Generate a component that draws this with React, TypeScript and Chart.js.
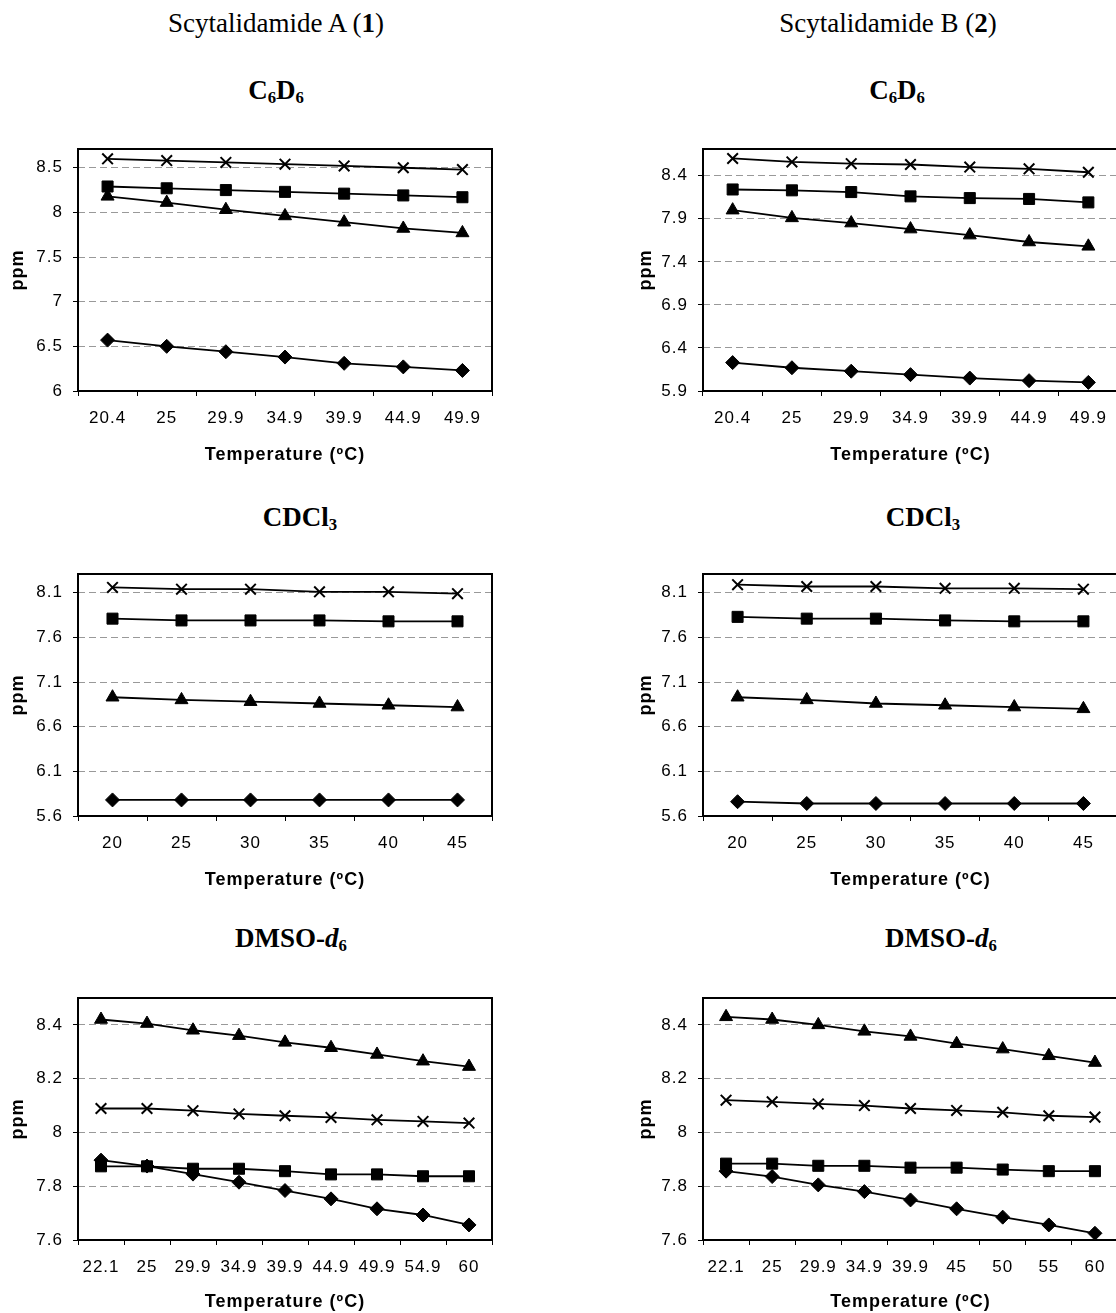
import React, { useEffect, useRef } from 'react';
import { Chart, registerables } from 'chart.js';
Chart.register(...registerables);

const SANS = '"Liberation Sans", Arial, sans-serif';
const SERIF = '"Liberation Serif", "Times New Roman", serif';

// ---- categories (temperature, °C) ----
const c6d6Temps = ['20.4', '25', '29.9', '34.9', '39.9', '44.9', '49.9'];
const cdcl3Temps = ['20', '25', '30', '35', '40', '45'];
const dmsoTempsA = ['22.1', '25', '29.9', '34.9', '39.9', '44.9', '49.9', '54.9', '60'];
const dmsoTempsB = ['22.1', '25', '29.9', '34.9', '39.9', '45', '50', '55', '60'];

// ---- y tick labels ----
const c6d6TicksA = [6, 6.5, 7, 7.5, 8, 8.5];
const c6d6TicksB = [5.9, 6.4, 6.9, 7.4, 7.9, 8.4];
const cdcl3Ticks = [5.6, 6.1, 6.6, 7.1, 7.6, 8.1];
const dmsoTicks = [7.6, 7.8, 8, 8.2, 8.4];

// series order: diamond, square, triangle, cross
const seriesNames = ['Series 1', 'Series 2', 'Series 3', 'Series 4'];

// ---- Scytalidamide A, C6D6 ----
const aC6D6Diamond = [6.57, 6.5, 6.44, 6.38, 6.31, 6.27, 6.23];
const aC6D6Square = [8.29, 8.27, 8.25, 8.23, 8.21, 8.19, 8.17];
const aC6D6Triangle = [8.18, 8.11, 8.03, 7.96, 7.89, 7.82, 7.77];
const aC6D6Cross = [8.6, 8.58, 8.56, 8.54, 8.52, 8.5, 8.48];

// ---- Scytalidamide B, C6D6 ----
const bC6D6Diamond = [6.23, 6.17, 6.13, 6.09, 6.05, 6.02, 6.0];
const bC6D6Square = [8.24, 8.23, 8.21, 8.16, 8.14, 8.13, 8.09];
const bC6D6Triangle = [8.0, 7.91, 7.85, 7.78, 7.71, 7.63, 7.58];
const bC6D6Cross = [8.6, 8.56, 8.54, 8.53, 8.5, 8.48, 8.44];

// ---- Scytalidamide A, CDCl3 ----
const aCDCl3Diamond = [5.78, 5.78, 5.78, 5.78, 5.78, 5.78];
const aCDCl3Square = [7.81, 7.79, 7.79, 7.79, 7.78, 7.78];
const aCDCl3Triangle = [6.93, 6.9, 6.88, 6.86, 6.84, 6.82];
const aCDCl3Cross = [8.16, 8.14, 8.14, 8.11, 8.11, 8.09];

// ---- Scytalidamide B, CDCl3 ----
const bCDCl3Diamond = [5.76, 5.74, 5.74, 5.74, 5.74, 5.74];
const bCDCl3Square = [7.83, 7.81, 7.81, 7.79, 7.78, 7.78];
const bCDCl3Triangle = [6.93, 6.9, 6.86, 6.84, 6.82, 6.8];
const bCDCl3Cross = [8.19, 8.17, 8.17, 8.15, 8.15, 8.14];

// ---- Scytalidamide A, DMSO-d6 ----
const aDMSODiamond = [7.897, 7.875, 7.845, 7.815, 7.784, 7.753, 7.716, 7.693, 7.656];
const aDMSOSquare = [7.874, 7.874, 7.865, 7.865, 7.856, 7.844, 7.844, 7.837, 7.837];
const aDMSOTriangle = [8.42, 8.405, 8.38, 8.36, 8.335, 8.315, 8.29, 8.265, 8.245];
const aDMSOCross = [8.089, 8.089, 8.081, 8.069, 8.062, 8.056, 8.047, 8.041, 8.035];

// ---- Scytalidamide B, DMSO-d6 ----
const bDMSODiamond = [7.856, 7.836, 7.805, 7.78, 7.749, 7.716, 7.685, 7.656, 7.625];
const bDMSOSquare = [7.884, 7.884, 7.876, 7.876, 7.869, 7.869, 7.862, 7.856, 7.856];
const bDMSOTriangle = [8.43, 8.42, 8.4, 8.376, 8.357, 8.33, 8.31, 8.285, 8.26];
const bDMSOCross = [8.12, 8.114, 8.106, 8.1, 8.089, 8.082, 8.075, 8.062, 8.057];

const markerStyles = [
  { pointStyle: 'rectRot', radius: 7, bw: 1 },
  { pointStyle: 'rect', radius: 7.8, bw: 1 },
  { pointStyle: 'triangle', radius: 7.5, bw: 1 },
  { pointStyle: 'crossRot', radius: 7.5, bw: 2 },
];

const framePlugin = {
  id: 'frame',
  beforeDraw(chart: any) {
    chart.ctx.letterSpacing = '1px';
  },
  afterDraw(chart: any) {
    const { ctx, chartArea: a } = chart;
    ctx.save();
    ctx.setLineDash([]);
    ctx.strokeStyle = '#000';
    ctx.lineWidth = 2;
    ctx.strokeRect(a.left, a.top, a.right - a.left, a.bottom - a.top);
    ctx.restore();
  },
};

type PanelProps = {
  left: number;
  top: number;
  width: number;
  height: number;
  plotLeft: number;
  plotTop: number;
  xAxisH: number;
  labels: string[];
  series: number[][];
  yMin: number;
  yMax: number;
  yTicks: number[];
  ppmX: number;
  xTitleOff: number;
};

function Panel(p: PanelProps) {
  const ref = useRef<HTMLCanvasElement>(null);
  useEffect(() => {
    const chart = new Chart(ref.current as HTMLCanvasElement, {
      type: 'line',
      data: {
        labels: p.labels,
        datasets: p.series.map((d, i) => ({
          label: seriesNames[i],
          data: d,
          borderColor: '#000',
          backgroundColor: '#000',
          borderWidth: 1.8,
          pointStyle: markerStyles[i].pointStyle as any,
          pointRadius: markerStyles[i].radius,
          pointBorderWidth: markerStyles[i].bw,
          pointBackgroundColor: '#000',
          pointBorderColor: '#000',
          tension: 0,
          clip: false as any,
        })),
      },
      options: {
        animation: false,
        responsive: false,
        devicePixelRatio: 1,
        events: [],
        layout: { autoPadding: false, padding: { top: p.plotTop - p.top, right: 2, left: 0, bottom: 0 } },
        plugins: { legend: { display: false }, tooltip: { enabled: false } },
        scales: {
          x: {
            type: 'category',
            offset: true,
            grid: {
              display: true,
              drawOnChartArea: false,
              drawTicks: true,
              tickLength: 5,
              offset: true,
              tickColor: '#000',
              tickWidth: 1,
            },
            border: { display: false },
            ticks: {
              color: '#000',
              font: { family: SANS, size: 17 },
              padding: 12,
              maxRotation: 0,
              autoSkip: false,
            },
            title: {
              display: true,
              text: 'Temperature (ºC)',
              color: '#000',
              font: { family: SANS, size: 18, weight: 'bold' },
              padding: { top: 0, bottom: p.xAxisH - 10.8 - p.xTitleOff },
            },
            afterFit: (s: any) => {
              s.height = p.xAxisH;
              s.paddingLeft = 0;
              s.paddingRight = 0;
              s.paddingTop = 0;
              s.paddingBottom = 0;
            },
          },
          y: {
            type: 'linear',
            min: p.yMin,
            max: p.yMax,
            afterBuildTicks: (s: any) => {
              s.ticks = p.yTicks.map((v) => ({ value: v }));
            },
            grid: {
              color: '#999999',
              lineWidth: 1,
              drawTicks: true,
              tickLength: 5,
              tickColor: '#000',
              tickBorderDash: [],
            },
            border: { display: false, dash: [7, 4] },
            ticks: {
              color: '#000',
              font: { family: SANS, size: 17 },
              padding: 10,
              callback: (v: any) => String(v),
            },
            title: {
              display: true,
              text: 'ppm',
              color: '#000',
              font: { family: SANS, size: 18, weight: 'bold' },
              padding: { top: p.ppmX - p.left - 10.8, bottom: 0 },
            },
            afterFit: (s: any) => {
              s.width = p.plotLeft - p.left;
              s.paddingTop = 0;
              s.paddingBottom = 0;
              s.paddingLeft = 0;
              s.paddingRight = 0;
            },
          },
        },
      } as any,
      plugins: [framePlugin],
    });
    return () => chart.destroy();
  }, []);
  return (
    <canvas
      ref={ref}
      width={p.width}
      height={p.height}
      style={{ position: 'absolute', left: p.left, top: p.top, width: p.width, height: p.height }}
    />
  );
}

function Label(props: { cx: number; baseline: number; bold?: boolean; children: any }) {
  return (
    <div
      style={{
        position: 'absolute',
        left: props.cx,
        top: props.baseline - 22.6,
        transform: 'translateX(-50%)',
        whiteSpace: 'nowrap',
        fontFamily: SERIF,
        fontSize: 27,
        lineHeight: '27px',
        fontWeight: props.bold ? 'bold' : 'normal',
        color: '#000',
      }}
    >
      {props.children}
    </div>
  );
}

const sub: React.CSSProperties = { fontSize: '0.62em', position: 'relative', top: '0.22em' };

export default function App() {
  const L = { left: 0, width: 494, plotLeft: 78, ppmX: 18.3 };
  const R = { left: 620, width: 500, plotLeft: 703, ppmX: 646 };
  const rows = [
    { top: 140, plotTop: 149, xTitleOff: 64 },
    { top: 565, plotTop: 574, xTitleOff: 64 },
    { top: 989, plotTop: 998, xTitleOff: 62 },
  ];
  const plotH = 242;
  const xAxisH = 79;
  const mk = (col: any, row: any) => ({
    left: col.left,
    width: col.width,
    plotLeft: col.plotLeft,
    ppmX: col.ppmX,
    top: row.top,
    plotTop: row.plotTop,
    xTitleOff: row.xTitleOff,
    xAxisH,
    height: row.plotTop - row.top + plotH + xAxisH,
  });
  return (
    <div
      style={{
        position: 'absolute',
        left: 0,
        top: 0,
        width: 1116,
        height: 1313,
        overflow: 'hidden',
        background: '#fff',
      }}
    >
      <Label cx={276} baseline={33}>
        Scytalidamide A (<b>1</b>)
      </Label>
      <Label cx={888} baseline={33}>
        Scytalidamide B (<b>2</b>)
      </Label>
      <Label cx={276} baseline={100} bold>
        C<span style={sub}>6</span>D<span style={sub}>6</span>
      </Label>
      <Label cx={897} baseline={100} bold>
        C<span style={sub}>6</span>D<span style={sub}>6</span>
      </Label>
      <Label cx={300} baseline={527} bold>
        CDCl<span style={sub}>3</span>
      </Label>
      <Label cx={923} baseline={527} bold>
        CDCl<span style={sub}>3</span>
      </Label>
      <Label cx={291} baseline={948} bold>
        DMSO-<i>d</i>
        <span style={sub}>6</span>
      </Label>
      <Label cx={941} baseline={948} bold>
        DMSO-<i>d</i>
        <span style={sub}>6</span>
      </Label>

      <Panel
        {...mk(L, rows[0])}
        labels={c6d6Temps}
        series={[aC6D6Diamond, aC6D6Square, aC6D6Triangle, aC6D6Cross]}
        yMin={6}
        yMax={8.71}
        yTicks={c6d6TicksA}
      />
      <Panel
        {...mk(R, rows[0])}
        labels={c6d6Temps}
        series={[bC6D6Diamond, bC6D6Square, bC6D6Triangle, bC6D6Cross]}
        yMin={5.9}
        yMax={8.71}
        yTicks={c6d6TicksB}
      />
      <Panel
        {...mk(L, rows[1])}
        labels={cdcl3Temps}
        series={[aCDCl3Diamond, aCDCl3Square, aCDCl3Triangle, aCDCl3Cross]}
        yMin={5.6}
        yMax={8.31}
        yTicks={cdcl3Ticks}
      />
      <Panel
        {...mk(R, rows[1])}
        labels={cdcl3Temps}
        series={[bCDCl3Diamond, bCDCl3Square, bCDCl3Triangle, bCDCl3Cross]}
        yMin={5.6}
        yMax={8.31}
        yTicks={cdcl3Ticks}
      />
      <Panel
        {...mk(L, rows[2])}
        labels={dmsoTempsA}
        series={[aDMSODiamond, aDMSOSquare, aDMSOTriangle, aDMSOCross]}
        yMin={7.6}
        yMax={8.5}
        yTicks={dmsoTicks}
      />
      <Panel
        {...mk(R, rows[2])}
        labels={dmsoTempsB}
        series={[bDMSODiamond, bDMSOSquare, bDMSOTriangle, bDMSOCross]}
        yMin={7.6}
        yMax={8.5}
        yTicks={dmsoTicks}
      />
    </div>
  );
}
